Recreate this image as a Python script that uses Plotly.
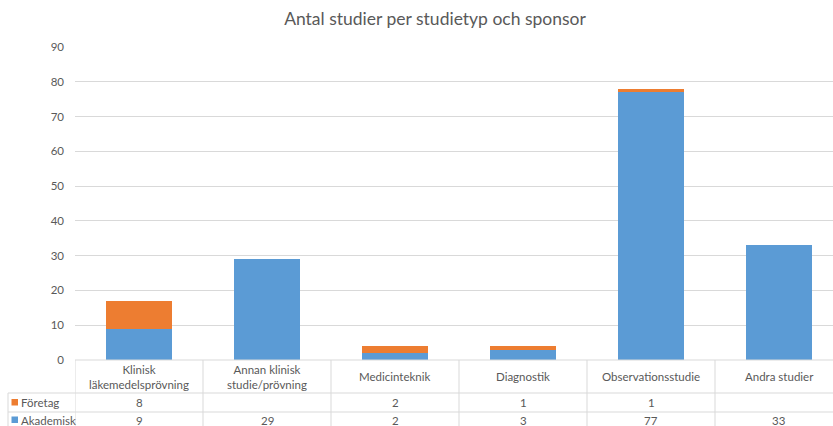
import plotly.graph_objects as go

# ---- data ----
categories = ["Klinisk läkemedelsprövning", "Annan klinisk studie/prövning", "Medicinteknik",
              "Diagnostik", "Observationsstudie", "Andra studier"]
header_labels = ["Klinisk<br>läkemedelsprövning", "Annan klinisk<br>studie/prövning", "Medicinteknik",
                 "Diagnostik", "Observationsstudie", "Andra studier"]
foretag = [8, None, 2, 1, 1, None]
akademisk = [9, 29, 2, 3, 77, 33]
series_names = ["Företag", "Akademisk"]
y_ticks = [0, 10, 20, 30, 40, 50, 60, 70, 80, 90]

BLUE = "#5B9BD5"
ORANGE = "#ED7D31"
GRID = "#D9D9D9"
TXT = "#595959"
FONT = "Lato, Liberation Sans, Arial, sans-serif"

W, H = 833, 426
L, T, B = 75, 47, 66
plot_h = H - T - B


def py(px):  # pixel y -> paper y
    return (H - B - px) / plot_h


def px_x(p):  # pixel x -> paper x
    return (p - L) / (W - L)


xs = list(range(len(categories)))

fig = go.Figure()
fig.add_trace(go.Bar(x=xs, y=akademisk, name=series_names[1], marker_color=BLUE, marker_line_width=0))
fig.add_trace(go.Bar(x=xs, y=foretag, name=series_names[0], marker_color=ORANGE, marker_line_width=0))

shapes = []
annotations = []
line = dict(color=GRID, width=1)
# horizontal table lines
shapes.append(dict(type="line", xref="paper", yref="paper", x0=0, x1=1.2, y0=py(360), y1=py(360), line=line))
for yy in (393, 412):
    shapes.append(dict(type="line", xref="paper", yref="paper", x0=px_x(8), x1=1.2, y0=py(yy), y1=py(yy), line=line))
# vertical lines
shapes.append(dict(type="line", xref="paper", yref="paper", x0=px_x(8), x1=px_x(8), y0=py(393), y1=py(440), line=line))
for i in range(len(categories)):
    shapes.append(dict(type="line", xref="x", yref="paper", x0=i - 0.5, x1=i - 0.5, y0=py(360), y1=py(440), line=line))

CELL_FONT = dict(size=11.5, color=TXT, family=FONT)
# header text
for i, lab in enumerate(header_labels):
    annotations.append(dict(x=i, xref="x", y=py(376.5), yref="paper", text=lab, showarrow=False,
                            font=CELL_FONT, yanchor="middle"))
# values
rows = [(foretag, 402.5), (akademisk, 420)]
for vals, yy in rows:
    for i, v in enumerate(vals):
        if v is None:
            continue
        annotations.append(dict(x=i, xref="x", y=py(yy), yref="paper", text=str(v), showarrow=False,
                                font=CELL_FONT, yanchor="middle"))
# row labels with legend keys
for name, color, yy in ((series_names[0], ORANGE, 402.5), (series_names[1], BLUE, 420)):
    shapes.append(dict(type="rect", xref="paper", yref="paper", x0=px_x(11.5), x1=px_x(18), y0=py(yy - 3.5),
                       y1=py(yy + 3), fillcolor=color, line_width=0))
    annotations.append(dict(x=px_x(19), xref="paper", y=py(yy), yref="paper", text=name, showarrow=False,
                            xanchor="left", yanchor="middle", font=CELL_FONT))

fig.update_layout(
    width=W, height=H,
    margin=dict(l=L, r=0, t=T, b=B),
    paper_bgcolor="white", plot_bgcolor="white",
    barmode="stack", bargap=0.485,
    showlegend=False,
    title=dict(text="Antal studier per studietyp och sponsor", x=435 / W, xref="container", xanchor="center",
               y=1 - 19 / H, yref="container", yanchor="middle",
               font=dict(size=17.5, color=TXT, family=FONT)),
    xaxis=dict(range=[-0.5, -0.5 + (W - L) / 128], showticklabels=False, showgrid=False, zeroline=False,
               ticks="", fixedrange=True),
    yaxis=dict(range=[0, 90], tickvals=y_ticks, showgrid=True, gridcolor=GRID, gridwidth=1, zeroline=False,
               ticks="", ticklabelstandoff=10, tickfont=dict(size=11.5, color=TXT, family=FONT)),
    shapes=shapes, annotations=annotations,
    font=dict(family=FONT, color=TXT),
)

fig.write_html("out.html", config={"displayModeBar": False},
               post_script="document.body.style.margin='0';document.body.style.overflow='hidden';")
